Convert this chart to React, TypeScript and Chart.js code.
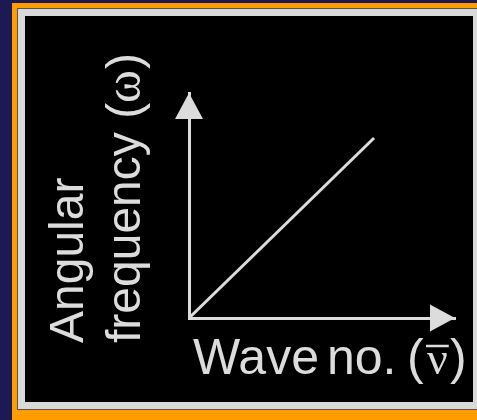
import React, { useEffect, useRef } from "react";
import { Chart, registerables } from "chart.js";

Chart.register(...registerables);

// ---- data ----
const waveNumber = [0, 8];
const angularFrequency = [0, 8];
const xAxisTitleParts = ["Wave", "no.", "(", "ν", ")"];
const yAxisTitleLine1 = "Angular";
const yAxisTitleLine2Parts = ["frequency (", "ω", ")"];
const xMax = 11.5;
const yMax = 10;

const INK = "#dcdcdc";
const SANS = '"Liberation Sans", Arial, sans-serif';
const SERIF = '"Liberation Serif", "Times New Roman", serif';

const arrowsAndLabels = {
  id: "arrowsAndLabels",
  afterDraw(chart: any) {
    const { ctx, chartArea, scales } = chart;
    const x0 = scales.x.getPixelForValue(0);
    const y0 = scales.y.getPixelForValue(0);
    ctx.save();
    ctx.fillStyle = INK;
    ctx.strokeStyle = INK;
    // x arrow head
    ctx.beginPath();
    ctx.moveTo(chartArea.right, y0);
    ctx.lineTo(chartArea.right - 25, y0 - 13.5);
    ctx.lineTo(chartArea.right - 25, y0 + 13.5);
    ctx.closePath();
    ctx.fill();
    // y arrow head
    ctx.beginPath();
    ctx.moveTo(x0, chartArea.top);
    ctx.lineTo(x0 - 14, chartArea.top + 26);
    ctx.lineTo(x0 + 14, chartArea.top + 26);
    ctx.closePath();
    ctx.fill();

    // x axis title
    ctx.textAlign = "left";
    ctx.textBaseline = "alphabetic";
    const base = chartArea.bottom + 56;
    const offs = [4, 138, 218, 238, 261];
    xAxisTitleParts.forEach((t, i) => {
      ctx.font = i === 3 ? `46px ${SERIF}` : `50px ${SANS}`;
      ctx.fillText(t, chartArea.left + offs[i], base);
    });
    // bar over the wave-number symbol
    const vx = chartArea.left + offs[3];
    ctx.font = `46px ${SERIF}`;
    const vw = ctx.measureText(xAxisTitleParts[3]).width;
    ctx.lineWidth = 2.5;
    ctx.beginPath();
    ctx.moveTo(vx - 1, base - 28);
    ctx.lineTo(vx + vw + 1, base - 28);
    ctx.stroke();

    // y axis title (two lines, rotated, start-aligned)
    const startY = chartArea.bottom + 25;
    ctx.save();
    ctx.translate(chartArea.left - 106, startY);
    ctx.rotate(-Math.PI / 2);
    ctx.font = `48px ${SANS}`;
    ctx.fillText(yAxisTitleLine1, 0, 0);
    ctx.restore();

    ctx.save();
    ctx.translate(chartArea.left - 49, startY);
    ctx.rotate(-Math.PI / 2);
    let cx = 0;
    yAxisTitleLine2Parts.forEach((t, i) => {
      ctx.font = i === 1 ? `50px ${SERIF}` : `48px ${SANS}`;
      ctx.fillText(t, cx, 0);
      cx += ctx.measureText(t).width + (i === 1 ? 1 : 0);
    });
    ctx.restore();
    ctx.restore();
  },
};

export default function App() {
  const ref = useRef<HTMLCanvasElement | null>(null);

  useEffect(() => {
    if (!ref.current) return;
    const chart = new Chart(ref.current, {
      type: "line",
      data: {
        datasets: [
          {
            data: waveNumber.map((x, i) => ({ x, y: angularFrequency[i] })),
            borderColor: INK,
            borderWidth: 3,
            pointRadius: 0,
            fill: false,
            tension: 0,
          },
        ],
      },
      options: {
        animation: false,
        responsive: false,
        events: [],
        layout: { padding: { left: 189, top: 93, right: 22, bottom: 102 } },
        plugins: { legend: { display: false }, tooltip: { enabled: false } },
        scales: {
          x: {
            type: "linear",
            min: 0,
            max: xMax,
            ticks: { display: false },
            grid: { display: false, drawTicks: false, tickLength: 0 },
            border: { display: true, color: INK, width: 3 },
            title: { display: false },
          },
          y: {
            type: "linear",
            min: 0,
            max: yMax,
            ticks: { display: false },
            grid: { display: false, drawTicks: false, tickLength: 0 },
            border: { display: true, color: INK, width: 3 },
            title: { display: false },
          },
        },
      },
      plugins: [arrowsAndLabels],
    } as any);
    return () => chart.destroy();
  }, []);

  return (
    <div
      style={{
        position: "fixed",
        left: 0,
        top: 0,
        width: 477,
        height: 420,
        background: "#1b1a55",
        overflow: "hidden",
      }}
    >
      <div
        style={{
          position: "absolute",
          left: 12,
          top: 3,
          width: 480,
          height: 430,
          background: "#ff9c00",
        }}
      />
      <div
        style={{
          position: "absolute",
          left: 18,
          top: 9,
          width: 462,
          height: 400,
          boxSizing: "border-box",
          border: "7px solid #d9d9d9",
          background: "#000",
          boxShadow: "0 0 0 1px #555",
        }}
      />
      <canvas
        ref={ref}
        width={477}
        height={420}
        style={{ position: "absolute", left: 0, top: 0, width: 477, height: 420 }}
      />
    </div>
  );
}
